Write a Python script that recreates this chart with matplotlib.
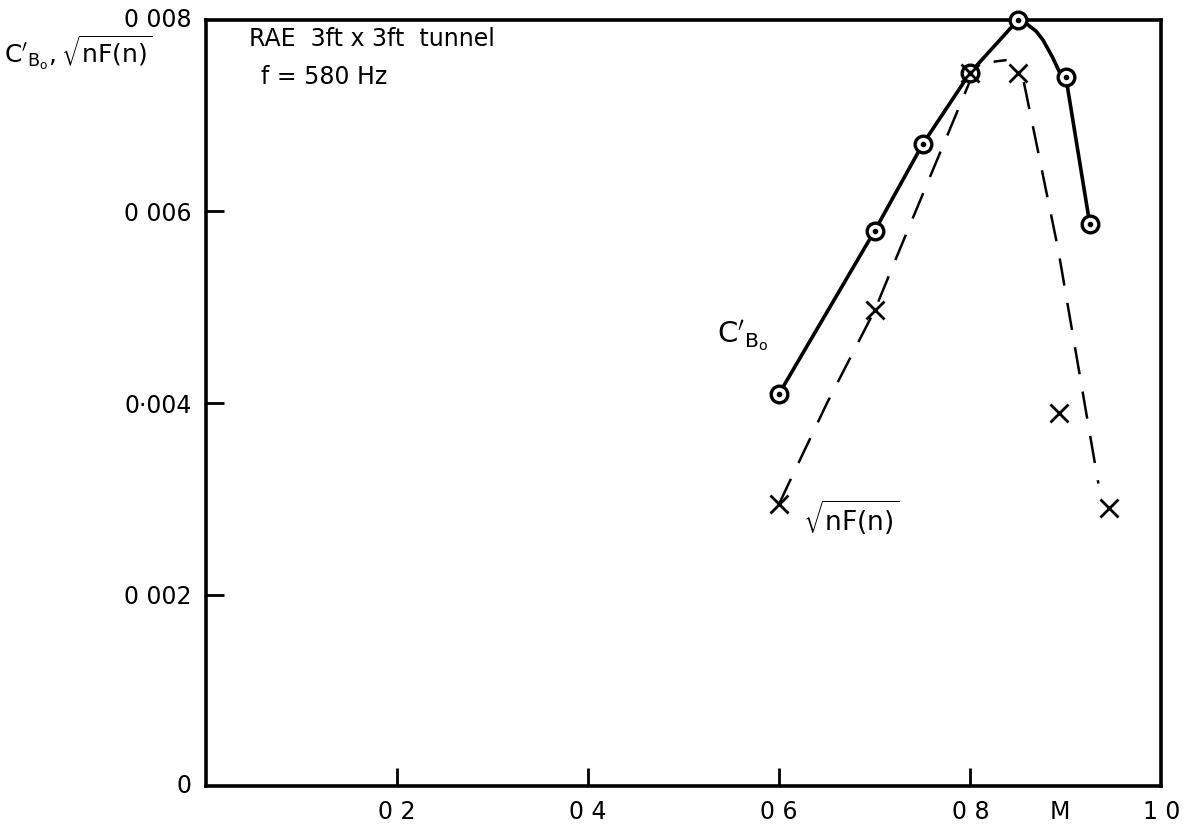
import matplotlib.pyplot as plt

# Mach number and measured values
m_cb = [0.6, 0.7, 0.75, 0.8, 0.85, 0.9, 0.925]
cb = [0.0041, 0.0058, 0.0067, 0.00745, 0.0080, 0.0074, 0.00587]

m_nf = [0.6, 0.7, 0.8, 0.85, 0.893, 0.945]
nf = [0.00295, 0.00497, 0.00745, 0.00745, 0.0039, 0.0029]

# hand-faired curves
m_cb_curve = [0.6, 0.7, 0.75, 0.8, 0.85, 0.86, 0.869, 0.876, 0.886, 0.893, 0.9, 0.925]
cb_curve = [0.0041, 0.0058, 0.0067, 0.00745, 0.0080, 0.00795, 0.00788, 0.00779,
             0.00761, 0.00746, 0.0074, 0.00587]

m_nf_curve = [0.6, 0.608, 0.65, 0.7, 0.726, 0.8, 0.822, 0.838]
nf_curve = [0.00295, 0.00312, 0.0040, 0.00497, 0.0056, 0.00737, 0.00756, 0.00758]
m_nf_curve2 = [0.856, 0.892, 0.934]
nf_curve2 = [0.00735, 0.0056, 0.00316]

xticks = [0.2, 0.4, 0.6, 0.8, 1.0]
xlabels = ["0 2", "0 4", "0 6", "0 8", "1 0"]
yticks = [0, 0.002, 0.004, 0.006, 0.008]
ylabels = ["0", "0 002", "0\u00b7004", "0 006", "0 008"]

fig = plt.figure(figsize=(11.9, 8.26), dpi=100)
ax = fig.add_axes([0.173, 0.048, 0.803, 0.928])

#curves
ax.plot(m_cb_curve, cb_curve, color="black", lw=2.6, zorder=2)
ax.plot(m_nf_curve, nf_curve, color="black", lw=1.8, dashes=(11, 7), zorder=2)
ax.plot(m_nf_curve2, nf_curve2, color="black", lw=1.8, dashes=(11, 7), zorder=2)

#points
ax.plot(m_cb, cb, "o", ms=12, mfc="white", mec="black", mew=2.4, zorder=3, clip_on=False)
ax.plot(m_cb, cb, "o", ms=3, color="black", zorder=4, clip_on=False)
ax.plot(m_nf, nf, "x", ms=13, mew=2, color="black", zorder=5, clip_on=False)

ax.set_xlim(0, 1.0)
ax.set_ylim(0, 0.008)
ax.set_xticks(xticks[:-1])
ax.set_xticklabels(xlabels[:-1])
ax.set_yticks(yticks[1:-1])
ax.set_yticklabels(ylabels[1:-1])
ax.tick_params(direction="in", length=13, width=2, labelsize=17, pad=10)
for s in ax.spines.values():
    s.set_linewidth(2.6)

# end labels placed by hand like the original
xt = ax.get_xaxis_transform()
yt = ax.get_yaxis_transform()
ax.annotate("1 0", (1.0, 0), xycoords=xt, xytext=(0, -10), textcoords="offset points",
            ha="center", va="top", fontsize=17)
ax.annotate("M", (0.894, 0), xycoords=xt, xytext=(0, -10), textcoords="offset points",
            ha="center", va="top", fontsize=17)
ax.annotate("0 008", (0, 0.008), xycoords=yt, xytext=(-10, 0), textcoords="offset points",
            ha="right", va="center", fontsize=17)
ax.annotate("0", (0, 0.0), xycoords=yt, xytext=(-10, 0), textcoords="offset points",
            ha="right", va="center", fontsize=17)

ax.text(0.045, 0.0078, "RAE  3ft x 3ft  tunnel", fontsize=17, va="center")
ax.text(0.058, 0.0074, "f = 580 Hz", fontsize=17, va="center")
ax.text(0.535, 0.0047, r"$\mathrm{C'}_{\mathrm{B_o}}$", fontsize=21, va="center")
ax.text(0.625, 0.0028, r"$\sqrt{\mathrm{nF(n)}}$", fontsize=19, va="center")
fig.text(0.003, 0.936, r"$\mathrm{C'}_{\mathrm{B_o}},\sqrt{\mathrm{nF(n)}}$", fontsize=18, va="center")

fig.savefig("out.png", dpi=100)
